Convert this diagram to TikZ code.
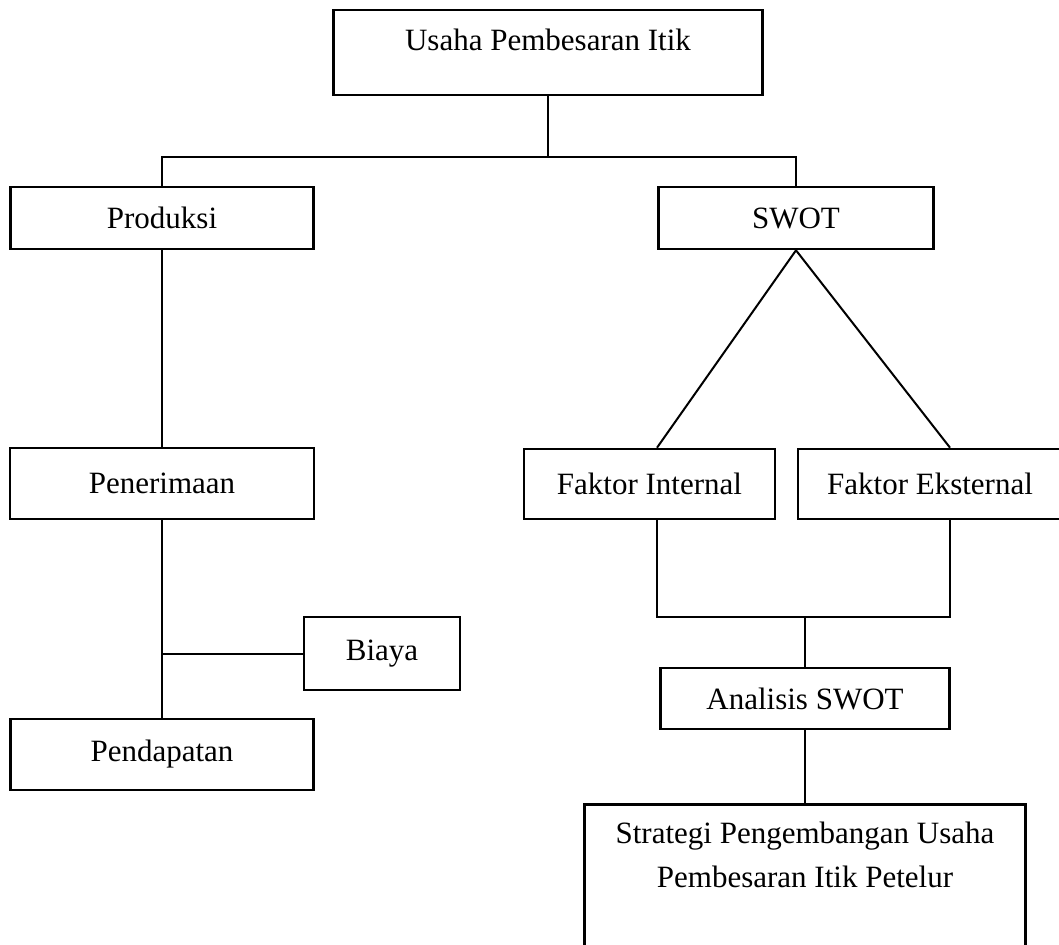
\documentclass[tikz,border=0pt]{standalone}
\usepackage{fontspec}
\setmainfont{Liberation Serif}
\usetikzlibrary{positioning}
\tikzset{
  kotak/.style={draw, line width=1.3pt, inner sep=0pt, font=\fontsize{15.5}{22}\selectfont},
  garis/.style={line width=1pt}
}
\begin{document}
\begin{tikzpicture}[x=0.5pt,y=-0.5pt]
\useasboundingbox (0,0) rectangle (1059,945);
% kotak kiri
\node[kotak, minimum width=214.5pt, minimum height=42.5pt, text height=11pt, text depth=12.5pt] (usaha) at (548,52.5) {Usaha Pembesaran Itik};
\node[kotak, minimum width=151.5pt, minimum height=31pt] (produksi) at (162,218) {Produksi};
\node[kotak, minimum width=152pt, minimum height=35.5pt] (penerimaan) at (162,483.5) {Penerimaan};
\node[kotak, minimum width=78pt, minimum height=36.5pt] (biaya) at (382,653.5) {Biaya};
\node[kotak, minimum width=151.5pt, minimum height=35.5pt] (pendapatan) at (162,754.5) {Pendapatan};
% kotak kanan
\node[kotak, minimum width=137.5pt, minimum height=31pt] (swot) at (796,218) {SWOT};
\node[kotak, minimum width=125.5pt, minimum height=35pt] (internal) at (649.5,484) {Faktor Internal};
\node[kotak, minimum width=132pt, minimum height=35pt] (eksternal) at (930,484) {Faktor Eksternal};
\node[kotak, minimum width=144.5pt, minimum height=30.5pt] (analisis) at (805,698.5) {Analisis SWOT};
\node[kotak, minimum width=220.5pt, inner ysep=9pt, align=center, anchor=north, text depth=45pt] (strategi) at (805,803) {Strategi Pengembangan Usaha\\Pembesaran Itik Petelur};
\coordinate (cabang) at (548,157);
\coordinate (gabung) at (805,617);
% garis penghubung
\draw[garis] (usaha.south) -- (cabang);
\draw[garis] (produksi.north) -- (produksi.north |- cabang) -- (swot.north |- cabang) -- (swot.north);
\draw[garis] (produksi) -- (penerimaan);
\draw[garis] (penerimaan) -- (pendapatan);
\draw[garis] (biaya.west) -- (biaya.west -| penerimaan.south);
\draw[garis] (swot.south) -- ([xshift=3.75pt]internal.north);
\draw[garis] (swot.south) -- ([xshift=10pt]eksternal.north);
\draw[garis] ([xshift=3.75pt]internal.south) |- (gabung);
\draw[garis] ([xshift=10pt]eksternal.south) |- (gabung);
\draw[garis] (gabung) -- (analisis.north);
\draw[garis] (analisis) -- (strategi);
\end{tikzpicture}
\end{document}
